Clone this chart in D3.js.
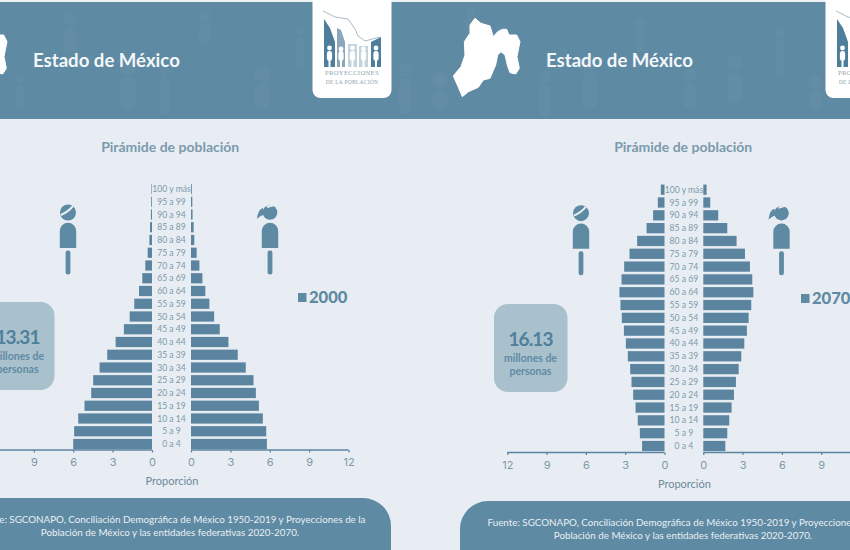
<!DOCTYPE html>
<html><head><meta charset="utf-8">
<style>html,body{margin:0;padding:0;background:#e7edf2}svg{display:block}</style>
<script src="https://cdn.jsdelivr.net/npm/d3@7"></script></head><body>
<svg id="c" width="850" height="550"></svg>
<script>
const ageGroups=["0 a 4","5 a 9","10 a 14","15 a 19","20 a 24","25 a 29","30 a 34","35 a 39","40 a 44","45 a 49","50 a 54","55 a 59","60 a 64","65 a 69","70 a 74","75 a 79","80 a 84","85 a 89","90 a 94","95 a 99","100 y más"];
const men2000=[6.0,5.93,5.62,5.14,4.63,4.48,3.99,3.41,2.77,2.14,1.70,1.35,0.99,0.74,0.51,0.33,0.20,0.15,0.08,0.06,0.04];
const women2000=[5.78,5.73,5.47,5.17,4.94,4.76,4.17,3.56,2.85,2.19,1.76,1.40,1.09,0.87,0.64,0.43,0.25,0.20,0.12,0.10,0.06];
const men2070=[1.71,1.88,2.04,2.21,2.39,2.52,2.62,2.80,2.95,3.10,3.26,3.36,3.44,3.28,3.08,2.67,2.09,1.37,0.87,0.51,0.28];
const women2070=[1.68,1.83,1.98,2.16,2.34,2.49,2.70,2.90,3.13,3.33,3.46,3.66,3.82,3.74,3.56,3.18,2.54,1.83,1.14,0.53,0.25];
const tickValues=[0,3,6,9,12];
const panels=[
 {year:"2000",total:"13.31",men:men2000,women:women2000,dx:0,zl:152,zr:191,axisY:450,top:189,bottom:444,boxX:-19,boxY:302,footY:498,footX:-53,titleY:152,propY:485,legX:298,legY:297.5,manX:68,womanX:270,iconDy:0},
 {year:"2070",total:"16.13",men:men2070,women:women2070,dx:513,zl:664.5,zr:703.3,axisY:452.5,top:189.7,bottom:446,boxX:494,boxY:304,footY:501,footX:460,titleY:152,propY:488,legX:801,legY:298.5,manX:581,womanX:781.5,iconDy:.7}
];
const blue="#5f8aa3",bar="#5b84a0",label="#7e99aa",paper="#e7edf2";
const svg=d3.select("#c");
svg.append("rect").attr("width",850).attr("height",550).attr("fill",paper);
svg.append("rect").attr("width",850).attr("height",2).attr("fill","#eef2f5");
svg.append("rect").attr("y",2).attr("width",850).attr("height",117).attr("fill",blue);

// faint people texture in the header
const tex=svg.append("g").attr("fill","#6790a8").attr("opacity",.5);
[[20,96],[70,40],[128,92],[165,96],[205,34],[262,96],[300,52],[405,96],[440,100],[470,30],[545,100],[590,90],[640,40],[690,96],[735,88],[780,58],[815,100]].forEach((d,i)=>{
  const w=9+(i%3)*3,h=22+(i%4)*5;
  tex.append("circle").attr("cx",d[0]).attr("cy",d[1]-h/2-w*.6).attr("r",w*.55);
  tex.append("rect").attr("x",d[0]-w/2).attr("y",d[1]-h/2).attr("width",w).attr("height",h).attr("rx",w/2);
});

const statePath="M150 55L168 70L195 78L205 110L218 95L232 88L245 88L252 105L275 105L285 125L280 150L276 170L283 205L272 222L255 218L247 195L240 165L228 155L218 165L212 195L195 235L175 240L160 262L130 275L112 290L100 262L85 228L108 200L120 165L118 125L135 100L135 75Z";

panels.forEach(p=>{
  const g=svg.append("g");
  g.append("path").attr("d",statePath).attr("fill","#fff").attr("stroke","#fff").attr("stroke-width",3).attr("stroke-linejoin","round")
    .attr("transform",`translate(${425+p.dx-513},0) scale(.3333)`);
  g.append("text").attr("x",33+p.dx).attr("y",67).attr("fill","#f4f7f9")
    .attr("font-family","Lato").attr("font-size",18.6).attr("font-weight",700).text("Estado de México");
  // logo card
  const lg=g.append("g").attr("transform",`translate(${p.dx},0)`);
  lg.append("path").attr("d","M312.5 0V90a8 8 0 0 0 8 8H383.5a8 8 0 0 0 8 -8V0Z").attr("fill","#fff");
  lg.append("path").attr("d","M324 19L330 28L335 42V67H324Z").attr("fill","#4d7f9c");
  lg.append("path").attr("d","M337 28L341 30L345 42V67H337Z").attr("fill","#8ba8ba");
  lg.append("rect").attr("x",348).attr("y",44).attr("width",9).attr("height",23).attr("fill","#c3d3dc");
  lg.append("rect").attr("x",359).attr("y",46).attr("width",9).attr("height",21).attr("fill","#c3d3dc");
  lg.append("path").attr("d","M371 42L381 37V67H371Z").attr("fill","#4d7f9c");
  lg.append("path").attr("d","M323 11L335 17L348 19L355 29L358 36L365 41L380 37").attr("fill","none").attr("stroke","#a8bcc8");
  [329.5,341,352.5,363.5,376].forEach((x,i)=>{
    lg.append("circle").attr("cx",x).attr("cy",48+(i%2)).attr("r",2.4).attr("fill","#fff");
    lg.append("rect").attr("x",x-2.6).attr("y",51).attr("width",5.2).attr("height",10).attr("rx",2.4).attr("fill","#fff");
    lg.append("rect").attr("x",x-1).attr("y",60).attr("width",2).attr("height",7).attr("fill","#fff");
  });
  lg.selectAll("text.l").data([["PROYECCIONES",75,6.6,.35],["DE LA POBLACIÓN",84,5.6,.2]]).join("text").attr("class","l")
    .attr("x",352).attr("y",d=>d[1]).attr("text-anchor","middle").attr("fill","#90a4b0")
    .attr("font-family","'Liberation Serif'").attr("font-size",d=>d[2]).attr("letter-spacing",d=>d[3]).text(d=>d[0]);

  // title
  g.append("text").attr("x",170.2+p.dx).attr("y",p.titleY).attr("text-anchor","middle").attr("fill","#7b9aae")
    .attr("font-family","Lato").attr("font-weight",700).attr("font-size",14).text("Pirámide de población");

  // scales
  const span=12;
  const unit=(p.zr===191?13.13:13.1);
  const xR=d3.scaleLinear().domain([0,span]).range([p.zr,p.zr+span*unit]);
  const xL=d3.scaleLinear().domain([0,span]).range([p.zl,p.zl-span*unit]);
  const step=(p.bottom-p.top)/20;
  const y=d3.scalePoint().domain(ageGroups).range([p.bottom,p.top]);
  const barH=step*.8;

  g.selectAll("rect.m").data(ageGroups).join("rect").attr("class","m")
    .attr("x",(d,i)=>xL(p.men[i])).attr("y",d=>y(d)-barH/2)
    .attr("width",(d,i)=>xL(0)-xL(p.men[i])).attr("height",barH).attr("fill",bar);
  g.selectAll("rect.w").data(ageGroups).join("rect").attr("class","w")
    .attr("x",xR(0)).attr("y",d=>y(d)-barH/2)
    .attr("width",(d,i)=>xR(p.women[i])-xR(0)).attr("height",barH).attr("fill",bar);
  g.selectAll("text.age").data(ageGroups).join("text").attr("class","age")
    .attr("x",(p.zl+p.zr)/2).attr("y",d=>y(d)+3).attr("text-anchor","middle").attr("fill",label)
    .attr("font-family","Lato").attr("font-size",8.6).text(d=>d);

  // axes
  [xL,xR].forEach(s=>{
    const a=g.append("g").attr("transform",`translate(0,${p.axisY})`)
      .call(d3.axisBottom(s).tickValues(tickValues).tickSize(2.5).tickPadding(6));
    a.select(".domain").attr("stroke",bar).attr("stroke-width",1.6).attr("d",`M${s.range()[0]},0H${s.range()[1]}`);
    a.selectAll(".tick line").attr("stroke",bar).attr("stroke-width",1.2);
    a.selectAll(".tick text").attr("fill","#7e99aa").attr("font-family","Inter,Lato").attr("font-size",11);
  });
  g.append("text").attr("x",(p.zl+p.zr)/2+.5).attr("y",p.propY).attr("text-anchor","middle").attr("fill","#6d899d")
    .attr("font-family","Lato").attr("font-size",11).text("Proporción");

  // figures
  const person=(cx,female)=>{
    const f=g.append("g").attr("transform",`translate(${cx},${p.iconDy})`).attr("fill",blue);
    f.append("circle").attr("cx",0).attr("cy",212.5).attr("r",female?7.3:8);
    f.append("path").attr("d",female?"M-3 207Q2 206 6 204":"M-7 215Q0 212 5 206").attr("stroke",paper).attr("stroke-width",2).attr("fill","none");
    if(female) f.append("path").attr("d","M-7 208Q-12 209 -13 219Q-9 215 -6 215Z");
    f.append("path").attr("d","M-8.2 248V231a8.2 8.2 0 0 1 16.4 0V248Z");
    f.append("rect").attr("x",-2.4).attr("y",250.5).attr("width",4.8).attr("height",24).attr("rx",2.2);
  };
  person(p.manX,false);
  person(p.womanX,true);

  // legend
  g.append("rect").attr("x",p.legX).attr("y",p.legY-4.5).attr("width",8.5).attr("height",9).attr("fill",blue);
  g.append("text").attr("x",p.legX+11).attr("y",p.legY+5.5).attr("fill",blue)
    .attr("font-family","Lato").attr("font-weight",900).attr("font-size",16.6).text(p.year);

  // total box
  const cx=p.boxX+36.5;
  g.append("rect").attr("x",p.boxX).attr("y",p.boxY).attr("width",73.5).attr("height",88).attr("rx",14).attr("fill","#a9c1cd");
  g.append("text").attr("x",cx).attr("y",p.boxY+42).attr("text-anchor","middle").attr("fill","#4f7f9a")
    .attr("font-family","Lato").attr("font-weight",700).attr("font-size",19).attr("letter-spacing",-.9).text(p.total);
  g.selectAll("text.bt").data(["millones de","personas"]).join("text").attr("class","bt")
    .attr("x",cx).attr("y",(d,i)=>p.boxY+58+i*13).attr("text-anchor","middle").attr("fill","#5f8aa3")
    .attr("font-family","Lato").attr("font-weight",700).attr("font-size",10.5).text(d=>d);

  // footer
  g.append("path").attr("d",`M${p.footX} 550V${p.footY+28}a28 28 0 0 1 28 -28H${p.footX+444-28}a28 28 0 0 1 28 28V550Z`).attr("fill",blue);
  g.selectAll("text.ft").data(["Fuente: SGCONAPO, Conciliación Demográfica de México 1950-2019 y Proyecciones de la","Población de México y las entidades federativas 2020-2070."]).join("text").attr("class","ft")
    .attr("x",p.footX+223).attr("y",(d,i)=>p.footY+25+i*13).attr("text-anchor","middle").attr("fill","#e8eff3")
    .attr("font-family","Lato").attr("font-size",9.8).text(d=>d);
});
</script></body></html>
